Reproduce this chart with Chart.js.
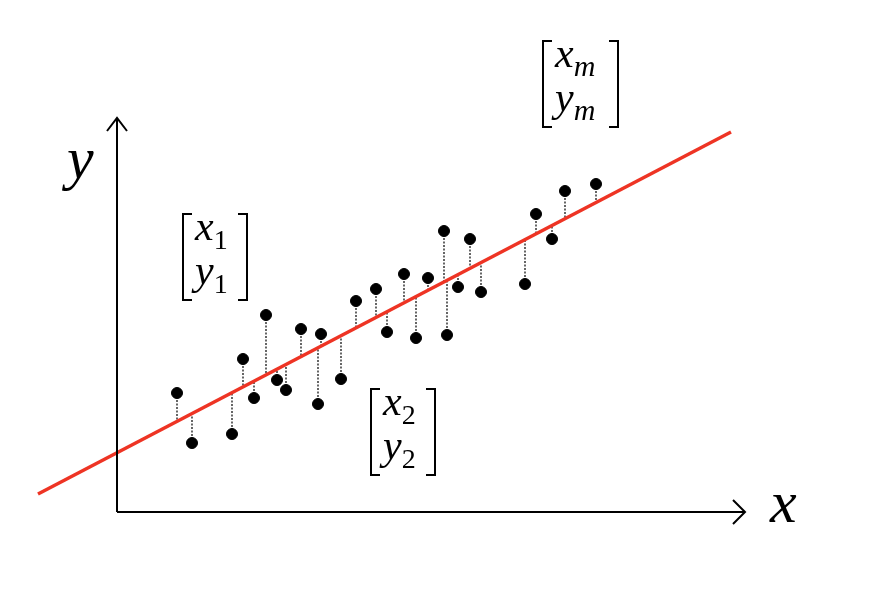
<!DOCTYPE html>
<html>
<head>
<meta charset="utf-8">
<title>Linear regression</title>
<script src="https://cdn.jsdelivr.net/npm/chart.js@4.4.1/dist/chart.umd.min.js"></script>
<style>
  html, body { margin: 0; padding: 0; background: #ffffff; }
  #wrap { width: 878px; height: 592px; }
</style>
</head>
<body>
<div id="wrap"><canvas id="regChart" width="878" height="592"></canvas></div>
<script>
// sample points (x, y)
const xValues = [6.0, 7.5, 11.5, 12.6, 13.7, 14.9, 16.0, 16.9, 18.4, 20.1, 20.4, 22.4, 23.9, 25.9,
                 27.0, 28.7, 29.9, 31.1, 32.7, 33.0, 34.1, 35.3, 36.4, 40.8, 41.9, 43.5, 44.8, 47.9];
const yValues = [11.9, 6.9, 7.8, 15.3, 11.4, 19.7, 13.2, 12.2, 18.3, 10.8, 17.8, 13.3, 21.1, 22.3,
                 18.0, 23.8, 17.4, 23.4, 28.1, 17.7, 22.5, 27.3, 22.0, 22.8, 29.8, 27.3, 32.1, 32.8];

// fitted line end points
const lineX = [-7.9, 61.4];
const lineY = [1.8, 38.0];

// axis extents (origin at 0,0)
const axisXEnd = 62.8;
const axisYEnd = 39.4;

// labels
const axisLabels = ["x", "y"];
const matrixSubs = ["1", "2", "m"];

const slope = (lineY[1] - lineY[0]) / (lineX[1] - lineX[0]);
function fitted(x) {
    return lineY[0] + (x - lineX[0]) * slope;
}

const points = xValues.map((x, i) => ({ x: x, y: yValues[i] }));

// dotted residual segments, one dataset each
const residualSets = xValues.map((x, i) => ({
    type: "line",
    data: [{ x: x, y: yValues[i] }, { x: x, y: fitted(x) }],
    borderColor: "#000000",
    borderWidth: 1.2,
    borderDash: [2, 1.5],
    pointRadius: 0,
    fill: false,
    order: 4
}));

const blackLine = {
    type: "line",
    borderColor: "#000000",
    borderWidth: 2,
    pointRadius: 0,
    fill: false,
    order: 2
};

const datasets = [
    // x axis with arrow head
    Object.assign({}, blackLine, { data: [{ x: 0, y: 0 }, { x: axisXEnd, y: 0 }] }),
    Object.assign({}, blackLine, { data: [{ x: axisXEnd - 1.2, y: 1.2 }, { x: axisXEnd, y: 0 }, { x: axisXEnd - 1.2, y: -1.2 }] }),
    // y axis with arrow head
    Object.assign({}, blackLine, { data: [{ x: 0, y: 0 }, { x: 0, y: axisYEnd }] }),
    Object.assign({}, blackLine, { data: [{ x: -1.0, y: axisYEnd - 1.3 }, { x: 0, y: axisYEnd }, { x: 1.0, y: axisYEnd - 1.3 }] }),
    // regression line
    {
        type: "line",
        data: [{ x: lineX[0], y: lineY[0] }, { x: lineX[1], y: lineY[1] }],
        borderColor: "#ee3424",
        borderWidth: 3.5,
        pointRadius: 0,
        fill: false,
        order: 3
    },
    ...residualSets,
    // the samples
    {
        type: "scatter",
        data: points,
        backgroundColor: "#000000",
        borderColor: "#000000",
        pointRadius: 5.5,
        pointHoverRadius: 5.5,
        order: 1
    }
];

// where the text labels sit (data units), box sizes in px
const labelSpots = {
    x: { x: 65.3, y: -1.0 },
    y: { x: -5.0, y: 33.4 },
    matrices: [
        { x: 6.6, y: 29.8, w: 64 },
        { x: 25.4, y: 12.3, w: 64 },
        { x: 42.6, y: 47.1, w: 75 }
    ]
};

const serif = '"Liberation Serif", "DejaVu Serif", serif';

function drawMatrix(ctx, left, top, w, sub) {
    const h = 86;
    const right = left + w;
    ctx.strokeStyle = "#000";
    ctx.lineWidth = 2;
    ctx.beginPath();
    // left bracket
    ctx.moveTo(left + 9, top);
    ctx.lineTo(left, top);
    ctx.lineTo(left, top + h);
    ctx.lineTo(left + 9, top + h);
    // right bracket
    ctx.moveTo(right - 9, top);
    ctx.lineTo(right, top);
    ctx.lineTo(right, top + h);
    ctx.lineTo(right - 9, top + h);
    ctx.stroke();

    ctx.fillStyle = "#000";
    ctx.textAlign = "left";
    ctx.textBaseline = "alphabetic";
    ["x", "y"].forEach((letter, row) => {
        const base = top + (row === 0 ? 26 : 70);
        ctx.font = "italic 42px " + serif;
        ctx.fillText(letter, left + 12, base);
        const lw = ctx.measureText(letter).width;
        ctx.font = (sub === "m" ? "italic 30px " : "28px ") + serif;
        ctx.fillText(sub, left + 12 + lw, base + 9);
    });
}

const labelPlugin = {
    id: "labelPlugin",
    afterDatasetsDraw(chart) {
        const ctx = chart.ctx;
        const sx = chart.scales.x;
        const sy = chart.scales.y;
        ctx.save();
        ctx.fillStyle = "#000";
        ctx.font = "italic 60px " + serif;
        ctx.textAlign = "left";
        ctx.textBaseline = "alphabetic";
        ctx.fillText(axisLabels[0], sx.getPixelForValue(labelSpots.x.x), sy.getPixelForValue(labelSpots.x.y));
        ctx.fillText(axisLabels[1], sx.getPixelForValue(labelSpots.y.x), sy.getPixelForValue(labelSpots.y.y));

        labelSpots.matrices.forEach((m, i) => {
            drawMatrix(ctx, sx.getPixelForValue(m.x), sy.getPixelForValue(m.y), m.w, matrixSubs[i]);
        });
        ctx.restore();
    }
};

const chart = new Chart(document.getElementById("regChart"), {
    type: "scatter",
    data: { datasets: datasets },
    options: {
        responsive: false,
        animation: false,
        clip: false,
        layout: { padding: 0, autoPadding: false },
        plugins: {
            legend: { display: false },
            tooltip: { enabled: false }
        },
        scales: {
            x: { type: "linear", min: -11.7, max: 76.1, display: false },
            y: { type: "linear", min: -8, max: 51.2, display: false }
        }
    },
    plugins: [labelPlugin]
});
</script>
</body>
</html>
